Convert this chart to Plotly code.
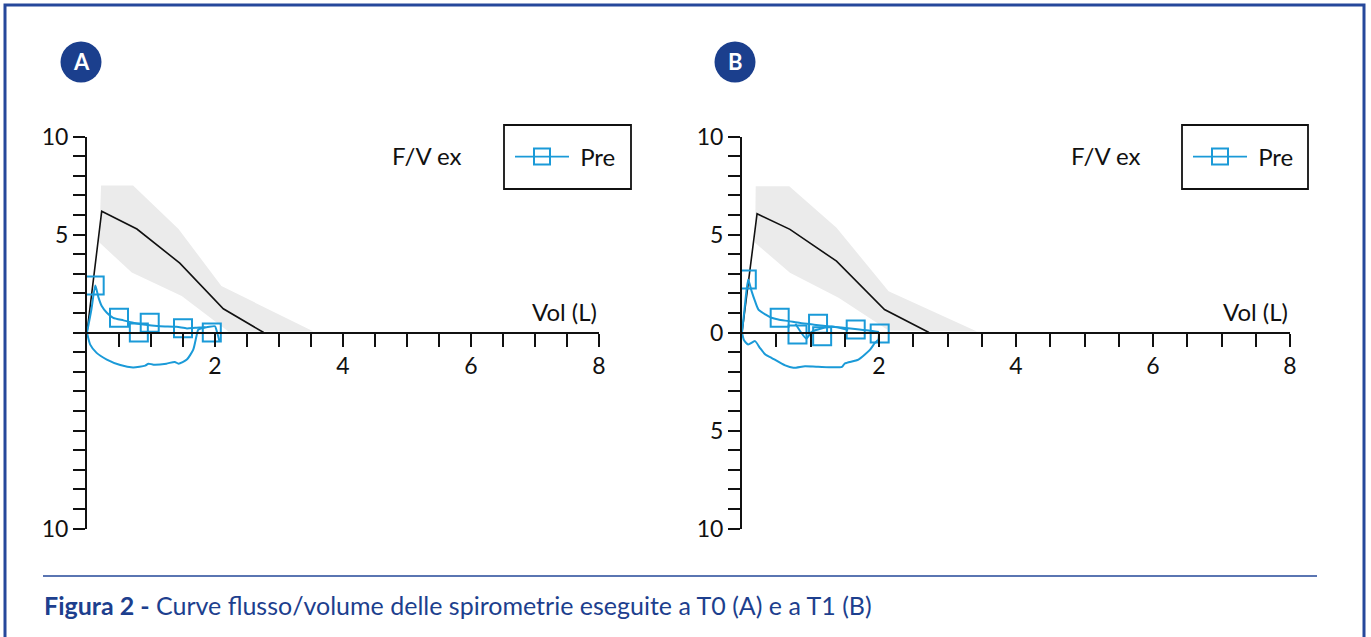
import plotly.graph_objects as go

W, H = 1371, 637

# ---------------- data ----------------
# Panel A (T0)
a_band_up_x = [0.22, 0.72, 1.43, 2.10, 3.54]
a_band_up_y = [7.5, 7.5, 5.28, 2.37, 0.05]
a_band_lo_x = [0.19, 0.70, 1.48, 2.21]
a_band_lo_y = [4.6, 3.06, 1.86, 0.05]
a_pred_x = [0, 0.23, 0.78, 1.45, 2.13, 2.76]
a_pred_y = [0, 6.19, 5.28, 3.54, 1.21, 0.0]
a_exp_x = [0, 0.07, 0.13, 0.18, 0.23, 0.31, 0.41, 0.57, 0.72, 0.88, 1.14, 1.40, 1.56, 1.69, 1.87, 2.00, 2.02, 2.07]
a_exp_y = [0, 1.2, 2.40, 1.78, 1.35, 1.01, 0.75, 0.62, 0.50, 0.41, 0.32, 0.29, 0.21, 0.24, 0.27, 0.32, 0.15, -0.44]
a_insp_x = [1.85, 1.74, 1.71, 1.66, 1.56, 1.43, 1.37, 1.24, 1.04, 0.96, 0.91, 0.72, 0.52, 0.31, 0.15, 0.05, 0.0]
a_insp_y = [0.27, 0.15, -0.19, -0.87, -1.38, -1.59, -1.50, -1.59, -1.64, -1.59, -1.69, -1.78, -1.66, -1.38, -1.04, -0.62, 0.0]
a_mark_x = [0.12, 0.50, 0.81, 0.98, 1.50, 1.95]
a_mark_y = [2.40, 0.75, 0.0, 0.50, 0.22, 0.0]

# Panel B (T1)
b_band_up_x = [0.20, 0.69, 1.38, 2.14, 3.43]
b_band_up_y = [7.46, 7.46, 5.34, 2.11, 0.05]
b_band_lo_x = [0.19, 0.70, 1.41, 2.14]
b_band_lo_y = [4.58, 3.05, 1.77, 0.1]
b_pred_x = [0, 0.22, 0.70, 1.38, 2.08, 2.73]
b_pred_y = [0, 6.06, 5.26, 3.64, 1.17, 0.0]
b_exp_x = [0, 0.04, 0.09, 0.14, 0.19, 0.24, 0.34, 0.43, 0.53, 0.68, 0.85, 1.05, 1.25, 1.45, 1.65, 1.85, 2.0]
b_exp_y = [0, 1.3, 2.70, 2.11, 1.60, 1.17, 0.92, 0.75, 0.66, 0.58, 0.48, 0.40, 0.32, 0.25, 0.18, 0.10, 0.02]
b_mid_x = [0.78, 0.94, 1.02, 1.31, 1.55]
b_mid_y = [0.45, -0.30, 0.04, 0.30, 0.12]
b_insp_x = [2.0, 1.99, 1.94, 1.87, 1.70, 1.50, 1.46, 1.11, 0.92, 0.75, 0.63, 0.43, 0.34, 0.26, 0.19, 0.09, 0.03, 0.0]
b_insp_y = [0.02, -0.36, -0.53, -0.87, -1.38, -1.58, -1.75, -1.75, -1.72, -1.80, -1.68, -1.29, -1.12, -0.78, -0.44, -0.61, -0.40, 0.0]
b_mark_x = [0.07, 0.55, 0.81, 1.11, 1.17, 1.66, 2.01]
b_mark_y = [2.70, 0.75, -0.10, 0.45, -0.19, 0.15, -0.05]

x_tickvals = [0.5 * i for i in range(1, 17)]
x_label_vals = {2: "2", 4: "4", 6: "6", 8: "8"}
y_tickvals = list(range(-10, 11))
a_y_labels = {10: "10", 5: "5", -10: "10"}
b_y_labels = {10: "10", 5: "5", 0: "0", -5: "5", -10: "10"}

series_name = "Pre"
caption_bold = "Figura 2 -"
caption_text = "Curve flusso/volume delle spirometrie eseguite a T0 (A) e a T1 (B)"

# ---------------- style ----------------
BLUE = "#1a9ad8"
GRAY = "#ebebeb"
NAVY = "#1d3f8e"
FONT = "Lato"

fig = go.Figure()

panels = [
    dict(xa="x", ya="y", leg="legend",
         up_x=a_band_up_x, up_y=a_band_up_y, lo_x=a_band_lo_x, lo_y=a_band_lo_y,
         px=a_pred_x, py=a_pred_y,
         segs=[(a_exp_x, a_exp_y), (a_insp_x, a_insp_y)],
         mx=a_mark_x, my=a_mark_y),
    dict(xa="x2", ya="y2", leg="legend2",
         up_x=b_band_up_x, up_y=b_band_up_y, lo_x=b_band_lo_x, lo_y=b_band_lo_y,
         px=b_pred_x, py=b_pred_y,
         segs=[(b_exp_x, b_exp_y), (b_mid_x, b_mid_y), (b_insp_x, b_insp_y)],
         mx=b_mark_x, my=b_mark_y),
]

for p in panels:
    fig.add_trace(go.Scatter(
        x=p["up_x"] + p["lo_x"][::-1], y=p["up_y"] + p["lo_y"][::-1],
        fill="toself", fillcolor=GRAY, mode="lines", line=dict(width=0),
        xaxis=p["xa"], yaxis=p["ya"], showlegend=False, hoverinfo="skip"))
    fig.add_trace(go.Scatter(
        x=p["px"], y=p["py"], mode="lines", line=dict(color="#111111", width=1.6),
        xaxis=p["xa"], yaxis=p["ya"], showlegend=False))
    for sx, sy in p["segs"]:
        fig.add_trace(go.Scatter(
            x=sx, y=sy, mode="lines", line=dict(color=BLUE, width=2, shape="spline", smoothing=0.6),
            xaxis=p["xa"], yaxis=p["ya"], showlegend=False))
    fig.add_trace(go.Scatter(
        x=p["mx"], y=p["my"], mode="markers",
        marker=dict(symbol="square-open", size=18, color=BLUE, line=dict(width=2, color=BLUE)),
        xaxis=p["xa"], yaxis=p["ya"], showlegend=False))
    # legend entry (line through open square)
    fig.add_trace(go.Scatter(
        x=[None], y=[None], mode="lines+markers", name="\u00a0" + series_name,
        line=dict(color=BLUE, width=1.8),
        marker=dict(symbol="square-open", size=18, color=BLUE, line=dict(width=2, color=BLUE)),
        xaxis=p["xa"], yaxis=p["ya"], legend=p["leg"], showlegend=True))

ytop_px, ybot_px = 136.5, 528.5
ydom = [1 - ybot_px / H, 1 - ytop_px / H]
ymid = (ydom[0] + ydom[1]) / 2
xdomA = [87 / W, 599 / W]
xdomB = [742 / W, 1290 / W]

tickfont = dict(family=FONT, size=23, color="#111111")

def xaxis(dom):
    return dict(domain=dom, range=[0, 8], anchor="free", position=ymid, automargin=False,
                showline=True, linecolor="#111111", linewidth=2, showgrid=False, zeroline=False,
                ticks="outside", ticklen=13, tickwidth=2, tickcolor="#111111",
                tickvals=x_tickvals, ticktext=[x_label_vals.get(v, "") for v in x_tickvals],
                tickfont=tickfont, fixedrange=True)

def yaxis(anchor, labels):
    return dict(domain=ydom, range=[-10, 10], anchor=anchor, automargin=False,
                showline=True, linecolor="#111111", linewidth=2, showgrid=False, zeroline=False,
                ticks="outside", ticklen=12, tickwidth=2, tickcolor="#111111",
                tickvals=y_tickvals, ticktext=[labels.get(v, "") for v in y_tickvals],
                tickfont=tickfont, fixedrange=True)

legend_common = dict(font=dict(family=FONT, size=24, color="#111111"),
                     bgcolor="rgba(0,0,0,0)", borderwidth=0, itemwidth=54,
                     xanchor="left", yanchor="middle", y=1 - 157 / H)

shapes = []
annotations = []
# outer frame (bottom edge lies below the visible page)
shapes.append(dict(type="rect", xref="paper", yref="paper", x0=5 / W, x1=1364 / W,
                   y0=-0.08, y1=1 - 5 / H, line=dict(color="#26489b", width=3)))
# separator
shapes.append(dict(type="line", xref="paper", yref="paper", x0=43 / W, x1=1317 / W,
                   y0=1 - 576 / H, y1=1 - 576 / H, line=dict(color="#5a75b2", width=2)))
# legend boxes
for (x0, x1) in [(504, 631), (1182, 1308)]:
    shapes.append(dict(type="rect", xref="paper", yref="paper", x0=x0 / W, x1=x1 / W,
                       y0=1 - 189 / H, y1=1 - 125 / H, line=dict(color="#111111", width=1.8)))
# badges
for cx, letter in [(81, "A"), (735, "B")]:
    r = 20.5
    shapes.append(dict(type="circle", xref="paper", yref="paper",
                       x0=(cx - r) / W, x1=(cx + r) / W, y0=1 - (62 + r) / H, y1=1 - (62 - r) / H,
                       fillcolor="#1b3f8d", line=dict(width=0)))
    annotations.append(dict(xref="paper", yref="paper", x=cx / W, y=1 - 62 / H, text="<b>%s</b>" % letter,
                            showarrow=False, xanchor="center", yanchor="middle",
                            font=dict(family=FONT, size=22, color="white")))

for xr, yr in [("x", "y"), ("x2", "y2")]:
    annotations.append(dict(xref=xr, yref=yr, x=5.3, y=9.05, text="F/V ex", showarrow=False,
                            xanchor="center", yanchor="middle", font=dict(family=FONT, size=24, color="#111111")))
    annotations.append(dict(xref=xr, yref=yr, x=8.0, y=1.05, text="Vol (L)", showarrow=False,
                            xanchor="right", yanchor="middle", font=dict(family=FONT, size=24, color="#111111")))

annotations.append(dict(xref="paper", yref="paper", x=42 / W, y=1 - 605 / H,
                        text="<b>%s</b> %s" % (caption_bold, caption_text), showarrow=False,
                        xanchor="left", yanchor="middle", font=dict(family=FONT, size=25, color=NAVY)))

fig.update_layout(
    width=W, height=H, autosize=False, margin=dict(l=0, r=0, t=0, b=0, pad=0),
    paper_bgcolor="white", plot_bgcolor="white",
    xaxis=xaxis(xdomA), yaxis=yaxis("x", a_y_labels),
    xaxis2=xaxis(xdomB), yaxis2=yaxis("x2", b_y_labels),
    legend=dict(legend_common, x=510 / W),
    legend2=dict(legend_common, x=1188 / W),
    shapes=shapes, annotations=annotations,
    showlegend=True,
)

fig.write_html(
    "out.html",
    config={"displayModeBar": False, "responsive": False},
    post_script=(
        "var h=document.documentElement,b=document.body;"
        "h.style.margin='0';b.style.margin='0';b.style.padding='0';"
        "h.style.height='637px';b.style.height='637px';"
        "h.style.overflow='hidden';b.style.overflow='hidden';"
        "var d=document.getElementById('{plot_id}');"
        "d.style.position='fixed';d.style.left='0px';d.style.top='0px';"
    ),
)
